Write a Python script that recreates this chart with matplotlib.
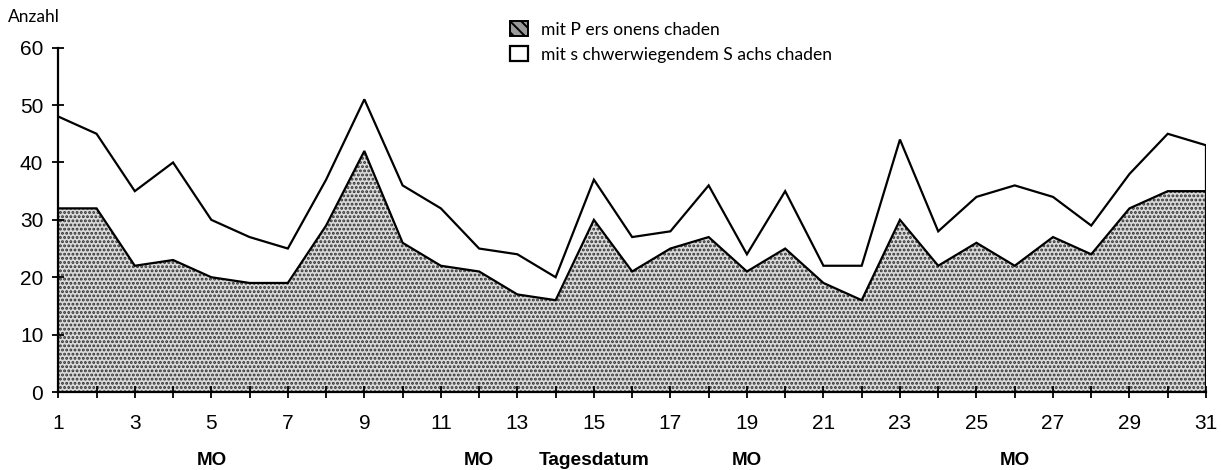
import matplotlib
matplotlib.use("Agg")
import matplotlib.pyplot as plt
from matplotlib.ticker import FixedLocator, NullFormatter
from matplotlib.patches import Patch

# ---- data ----
days = list(range(1, 32))
personenschaden = [32, 32, 22, 23, 20, 19, 19, 29, 42, 26, 22, 21, 17, 16, 30,
                   21, 25, 27, 21, 25, 19, 16, 30, 22, 26, 22, 27, 24, 32, 35, 35]
total = [48, 45, 35, 40, 30, 27, 25, 37, 51, 36, 32, 25, 24, 20, 37,
         27, 28, 36, 24, 35, 22, 22, 44, 28, 34, 36, 34, 29, 38, 45, 43]
monday_days = [5, 12, 19, 26]
xlabel_day = 15
legend_labels = ["mit P ers onens chaden", "mit s chwerwiegendem S achs chaden"]
y_ticks = [0, 10, 20, 30, 40, 50, 60]

plt.rcParams['hatch.linewidth'] = 1.4
plt.rcParams['hatch.color'] = '#303030'

fig = plt.figure(figsize=(12.21, 4.70), dpi=100)
ax = fig.add_axes([58.3 / 1221, 1 - 392 / 470, (1206 - 58.3) / 1221, (392 - 47.7) / 470])

ax.fill_between(days, personenschaden, total, facecolor='white', edgecolor='none',
                label=legend_labels[1], zorder=1)
ax.fill_between(days, 0, personenschaden, facecolor='#dadada', edgecolor='#303030',
                linewidth=0, hatch='....', zorder=1, label=legend_labels[0])
ax.plot(days, total, color='black', lw=1.6, zorder=3, solid_joinstyle='miter')
ax.plot(days, personenschaden, color='black', lw=1.6, zorder=3, solid_joinstyle='miter')
ax.vlines(days[-1], 0, total[-1], color='black', lw=1.6, zorder=3)

ax.set_xlim(days[0], days[-1])
ax.set_ylim(0, 60)
for s in ['top', 'right']:
    ax.spines[s].set_visible(False)
for s in ['left', 'bottom']:
    ax.spines[s].set_linewidth(1.6)
    ax.spines[s].set_zorder(4)

ax.set_yticks(y_ticks)
ax.xaxis.set_major_locator(FixedLocator([d for d in days if d % 2 == 1]))
ax.xaxis.set_minor_locator(FixedLocator([d for d in days if d % 2 == 0]))
ax.xaxis.set_minor_formatter(NullFormatter())

tickfont = 'Liberation Sans'
ax.tick_params(axis='both', which='both', direction='inout', length=8.5, width=1.3, color='black')
ax.tick_params(axis='x', which='major', pad=11.5, labelsize=15)
ax.tick_params(axis='y', which='major', pad=6.5, labelsize=15)
for lab in ax.get_xticklabels() + ax.get_yticklabels():
    lab.set_fontfamily(tickfont)

for d in monday_days:
    ax.annotate('MO', xy=(d, -0.198), xycoords=('data', 'axes fraction'),
                ha='center', va='center', fontsize=13.5, fontweight='bold',
                family=tickfont)
ax.annotate('Tagesdatum', xy=(xlabel_day, -0.198), xycoords=('data', 'axes fraction'),
            ha='center', va='center', fontsize=13.8, fontweight='bold', family=tickfont)

fig.text(8 / 1221, 1 - 17 / 470, 'Anzahl', ha='left', va='center', fontsize=12.5,
         family='Lato', color='black')

h1 = Patch(facecolor='#9a9a9a', edgecolor='black', hatch='\\\\\\', linewidth=1.4)
h2 = Patch(facecolor='white', edgecolor='black', linewidth=1.6)
leg = fig.legend([h1, h2], legend_labels, loc='upper left',
                 bbox_to_anchor=(503 / 1221, 1 - 14 / 470), frameon=False,
                 handlelength=1.05, handleheight=0.95, handletextpad=0.7,
                 labelspacing=0.5, borderaxespad=0,
                 prop={'family': 'Lato', 'size': 12.6})
for t in leg.get_texts():
    t.set_color('black')

fig.savefig('out.png', dpi=100)
